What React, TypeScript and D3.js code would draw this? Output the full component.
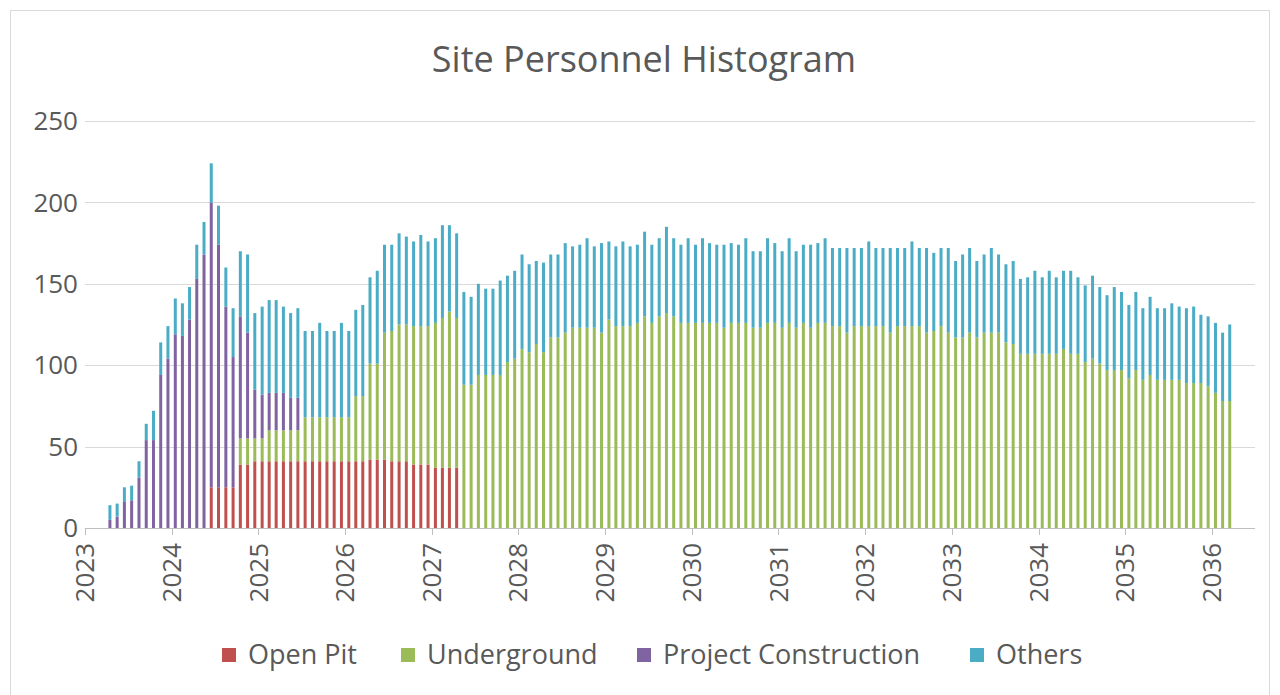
import * as d3 from "d3";

// monthly site headcount, first bar = April 2023
const firstMonth = "2023-04";
const seriesNames = ["Open Pit", "Underground", "Project Construction", "Others"];
const seriesColors = ["#C0504D", "#9BBB59", "#8064A2", "#4BACC6"];
const yTicks = [0, 50, 100, 150, 200, 250];

const openPit = [
  0, 0, 0, 0, 0, 0, 0, 0, 0,
  0, 0, 0, 0, 0, 25, 25, 25, 25, 39, 39, 41,
  41, 41, 41, 41, 41, 41, 41, 41, 41, 41, 41, 41,
  41, 41, 41, 42, 42, 42, 41, 41, 41, 39, 39, 39,
  37, 37, 37, 37, 0, 0, 0, 0, 0, 0, 0, 0,
  0, 0, 0, 0, 0, 0, 0, 0, 0, 0, 0, 0,
  0, 0, 0, 0, 0, 0, 0, 0, 0, 0, 0, 0,
  0, 0, 0, 0, 0, 0, 0, 0, 0, 0, 0, 0,
  0, 0, 0, 0, 0, 0, 0, 0, 0, 0, 0, 0,
  0, 0, 0, 0, 0, 0, 0, 0, 0, 0, 0, 0,
  0, 0, 0, 0, 0, 0, 0, 0, 0, 0, 0, 0,
  0, 0, 0, 0, 0, 0, 0, 0, 0, 0, 0, 0,
  0, 0, 0, 0, 0, 0, 0, 0, 0, 0, 0, 0,
  0, 0, 0,
];

const underground = [
  0, 0, 0, 0, 0, 0, 0, 0, 0,
  0, 0, 0, 0, 0, 0, 0, 0, 0, 16, 16, 14,
  14, 19, 19, 19, 19, 19, 27, 27, 27, 27, 27, 27,
  27, 40, 40, 59, 59, 78, 80, 84, 84, 85, 85, 85,
  89, 92, 96, 92, 88, 88, 94, 94, 94, 94, 102, 104,
  110, 108, 113, 108, 117, 117, 120, 123, 123, 123, 123, 120,
  128, 124, 124, 124, 126, 130, 126, 130, 132, 130, 126, 126,
  126, 126, 126, 126, 123, 126, 126, 126, 123, 123, 126, 126,
  123, 126, 123, 126, 123, 126, 126, 124, 124, 120, 124, 124,
  124, 124, 124, 120, 124, 124, 124, 124, 120, 121, 124, 120,
  117, 117, 120, 117, 120, 120, 120, 114, 113, 107, 107, 107,
  107, 107, 107, 110, 107, 107, 102, 104, 101, 97, 97, 97,
  92, 97, 91, 94, 91, 91, 91, 91, 89, 89, 89, 87,
  83, 78, 78,
];

const construction = [
  5, 7, 16, 17, 31, 54, 54, 94, 104,
  119, 118, 128, 153, 168, 175, 149, 111, 80, 75, 65, 30,
  27, 23, 23, 23, 20, 20, 0, 0, 0, 0, 0, 0,
  0, 0, 0, 0, 0, 0, 0, 0, 0, 0, 0, 0,
  0, 0, 0, 0, 0, 0, 0, 0, 0, 0, 0, 0,
  0, 0, 0, 0, 0, 0, 0, 0, 0, 0, 0, 0,
  0, 0, 0, 0, 0, 0, 0, 0, 0, 0, 0, 0,
  0, 0, 0, 0, 0, 0, 0, 0, 0, 0, 0, 0,
  0, 0, 0, 0, 0, 0, 0, 0, 0, 0, 0, 0,
  0, 0, 0, 0, 0, 0, 0, 0, 0, 0, 0, 0,
  0, 0, 0, 0, 0, 0, 0, 0, 0, 0, 0, 0,
  0, 0, 0, 0, 0, 0, 0, 0, 0, 0, 0, 0,
  0, 0, 0, 0, 0, 0, 0, 0, 0, 0, 0, 0,
  0, 0, 0,
];

const others = [
  9, 8, 9, 9, 10, 10, 18, 20, 20,
  22, 20, 20, 21, 20, 24, 24, 24, 30, 40, 48, 47,
  54, 57, 57, 53, 52, 55, 53, 53, 58, 53, 53, 58,
  53, 53, 56, 53, 57, 54, 53, 56, 54, 52, 56, 52,
  52, 57, 53, 52, 57, 54, 56, 53, 53, 58, 53, 54,
  58, 54, 51, 55, 51, 51, 55, 50, 51, 55, 50, 55,
  48, 49, 52, 49, 48, 52, 48, 48, 53, 48, 48, 52,
  48, 52, 49, 48, 51, 49, 48, 52, 47, 47, 52, 49,
  47, 52, 47, 48, 51, 49, 52, 48, 48, 52, 48, 48,
  52, 48, 48, 52, 48, 48, 52, 48, 52, 48, 48, 52,
  47, 51, 52, 47, 48, 52, 48, 48, 51, 46, 47, 51,
  47, 51, 47, 48, 51, 47, 47, 51, 47, 46, 51, 48,
  45, 48, 44, 48, 44, 44, 47, 45, 46, 47, 42, 43,
  43, 42, 47,
];

const width = 1280;
const height = 695;
const font = "'Open Sans', 'Noto Sans', sans-serif";
const textColor = "#595959";

const App = () => {
  const start = d3.timeParse("%Y-%m")(firstMonth) as Date;
  const months = openPit.map((_, i) => d3.timeMonth.offset(start, i));
  const rows = months.map((m, i) => ({
    month: m,
    "Open Pit": openPit[i],
    Underground: underground[i],
    "Project Construction": construction[i],
    Others: others[i],
  }));

  const x = d3
    .scaleTime()
    .domain([new Date(2023, 0, 1), new Date(2036, 6, 1)])
    .range([85, 1255]);
  const y = d3.scaleLinear().domain([0, 250]).range([528, 121]);
  const years = d3.timeYear.range(new Date(2023, 0, 1), new Date(2036, 6, 1));
  const [x0, x1] = x.range();

  const stacked = d3.stack<any>().keys(seriesNames)(rows);
  const barW = 3;
  const center = (m: Date) => (x(m) + x(d3.timeMonth.offset(m, 1))) / 2;

  // legend positions (text start)
  const legendX = [248, 427, 663, 996];

  return (
    <div style={{ position: "absolute", left: 0, top: 0 }}>
      <svg width={width} height={height} style={{ display: "block", fontFamily: font }}>
        <rect x={0} y={0} width={width} height={height} fill="#fff" />
        <rect x={10.5} y={10.5} width={1259} height={700} fill="none" stroke="#d9d9d9" />
        <text x={644} y={72} textAnchor="middle" fontSize={36} fill={textColor}>
          Site Personnel  Histogram
        </text>
        {/* gridlines + y labels */}
        {yTicks.map((t) => (
          <g key={t}>
            {t > 0 && (
              <line x1={x0} x2={x1} y1={Math.round(y(t)) + 0.5} y2={Math.round(y(t)) + 0.5} stroke="#d9d9d9" />
            )}
            <text x={78} y={y(t)} dy="0.35em" textAnchor="end" fontSize={26} fill={textColor}>
              {t}
            </text>
          </g>
        ))}
        {/* stacked bars */}
        {stacked.map((s, si) => (
          <g key={s.key} fill={seriesColors[si]}>
            {s.map((d, i) =>
              d[1] - d[0] > 0 ? (
                <rect
                  key={i}
                  x={center(months[i]) - barW / 2}
                  y={y(d[1])}
                  width={barW}
                  height={y(d[0]) - y(d[1])}
                />
              ) : null
            )}
          </g>
        ))}
        {/* x axis */}
        <line x1={x0} x2={x1} y1={528.5} y2={528.5} stroke="#bfbfbf" />
        {years.map((yr) => (
          <g key={yr.getFullYear()}>
            <line x1={Math.round(x(yr)) + 0.5} x2={Math.round(x(yr)) + 0.5} y1={528} y2={535} stroke="#bfbfbf" />
            <text
              transform={`translate(${x(yr)},543) rotate(-90)`}
              dy="0.35em"
              textAnchor="end"
              fontSize={26}
              fill={textColor}
            >
              {d3.timeFormat("%Y")(yr)}
            </text>
          </g>
        ))}
        {/* legend */}
        {seriesNames.map((n, i) => (
          <g key={n}>
            <rect x={legendX[i] - 26} y={648} width={14} height={14} fill={seriesColors[i]} />
            <text x={legendX[i]} y={655} dy="0.35em" fontSize={27} fill={textColor}>
              {n}
            </text>
          </g>
        ))}
      </svg>
    </div>
  );
};

export default App;
